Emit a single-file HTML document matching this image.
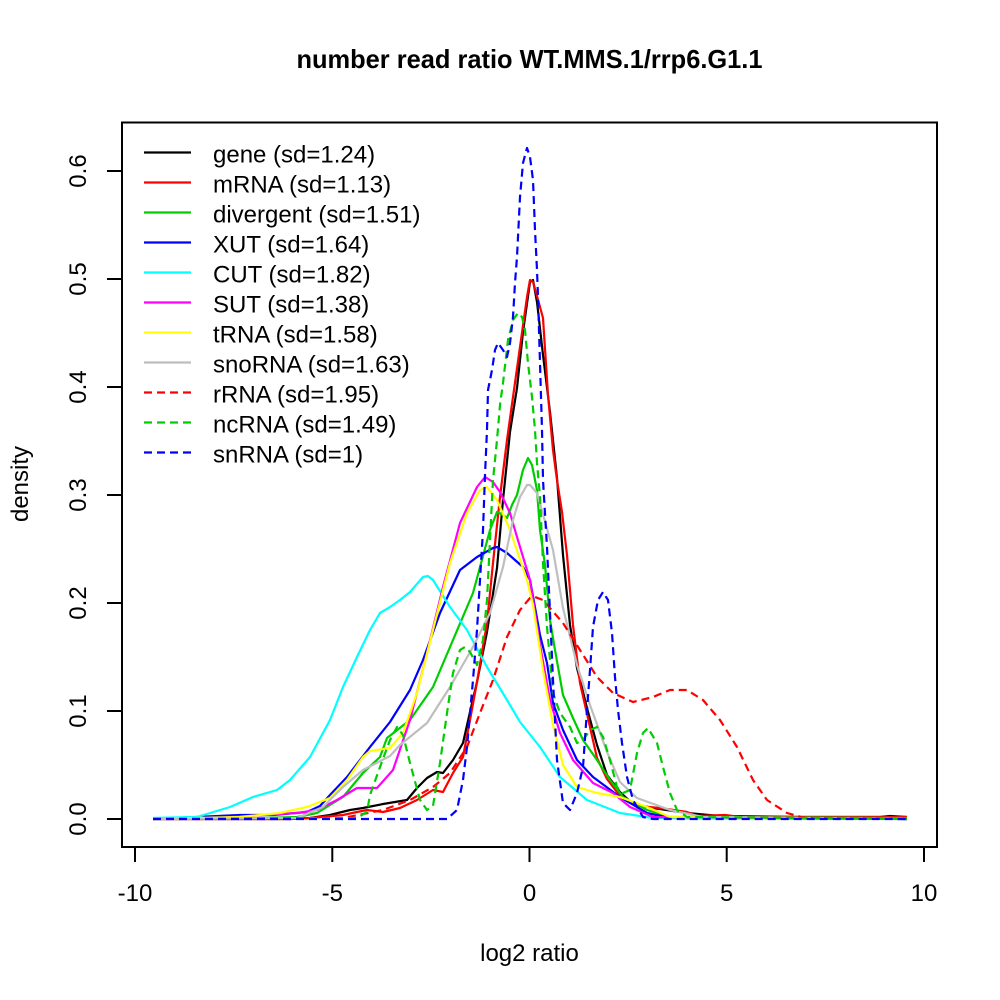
<!DOCTYPE html>
<html>
<head>
<meta charset="utf-8">
<style>
html,body{margin:0;padding:0;background:#fff;}
svg{display:block;}
text{font-family:"Liberation Sans",Arial,sans-serif;fill:#000;}
</style>
</head>
<body>
<svg width="1000" height="1000" viewBox="0 0 1000 1000" xmlns="http://www.w3.org/2000/svg">
<rect x="0" y="0" width="1000" height="1000" fill="#fff"/>

<!-- title -->
<text x="529.5" y="68" font-size="26" font-weight="bold" text-anchor="middle" textLength="466" lengthAdjust="spacingAndGlyphs">number read ratio WT.MMS.1/rrp6.G1.1</text>

<!-- curves -->
<g fill="none" stroke-width="2.2" stroke-linejoin="round" stroke-linecap="butt">
<!-- gene -->
<polyline stroke="#000" points="153,819 290,819 310,818 330,815 350,810 363,808 383,804 407,800 417,788 427,778 437,772 443,773 453,760 463,743 470,712 477,682 487,632 497,568 503,500 510,432 517,388 523,332 530,282 533,280 537,302 543,355 550,412 557,478 563,555 570,625 577,668 587,708 597,745 607,775 620,792 633,804 653,808 687,813 720,816 800,817 880,817 890,816 907,817"/>
<!-- mRNA -->
<polyline stroke="#ff0000" points="153,819 290,819 310,818 343,815 357,812 367,810 383,812 400,808 417,800 433,790 443,792 453,773 463,757 470,720 477,682 487,623 493,563 500,497 507,440 513,397 520,347 527,297 530,280 533,282 537,296 543,318 548,395 553,450 557,480 562,512 567,555 573,625 580,683 590,727 597,758 607,779 620,796 637,806 660,808 687,812 697,816 725,815 740,817 907,817"/>
<!-- divergent -->
<polyline stroke="#00cd00" points="153,819 263,818 297,817 317,813 343,797 363,773 380,757 387,738 410,720 433,687 453,640 473,593 490,530 497,512 503,515 507,518 512,505 517,495 523,470 528,458 532,465 537,490 540,530 545,565 550,620 555,650 563,695 573,718 583,740 597,760 610,780 623,797 647,810 670,817 907,818"/>
<!-- XUT -->
<polyline stroke="#0000ff" points="153,819 240,815 273,815 307,812 320,806 330,795 347,777 370,747 390,722 410,690 423,660 440,613 460,570 477,557 493,548 497,547 507,553 523,567 530,580 540,635 547,663 553,703 563,730 577,760 593,777 620,797 647,813 670,818 907,819"/>
<!-- CUT -->
<polyline stroke="#00ffff" points="153,818 197,817 230,807 253,797 277,790 290,780 310,757 330,720 343,687 357,657 370,630 380,613 390,607 400,600 410,592 423,577 428,576 433,580 450,607 467,630 487,667 507,700 520,722 540,747 560,777 587,800 620,813 653,818 907,819"/>
<!-- SUT -->
<polyline stroke="#ff00ff" points="153,819 217,818 297,813 317,810 337,800 357,788 377,788 393,770 410,720 427,653 443,587 460,523 477,487 485,477 493,482 500,492 510,513 517,537 530,580 540,645 550,700 560,733 573,760 593,783 613,793 630,807 653,817 907,819"/>
<!-- tRNA -->
<polyline stroke="#ffff00" points="153,819 197,818 240,817 280,813 307,807 330,798 347,780 363,757 370,751 390,748 403,733 417,693 433,630 450,563 467,513 480,490 487,487 497,500 510,530 527,580 533,605 543,670 553,725 563,765 577,787 597,793 620,797 647,807 670,817 907,819"/>
<!-- snoRNA -->
<polyline stroke="#bebebe" points="153,819 297,818 323,807 343,787 363,770 390,756 400,745 427,723 450,687 473,647 490,613 503,567 513,520 520,497 527,485 530,485 537,493 553,550 563,608 577,665 590,705 607,752 620,782 637,798 670,810 703,817 907,819"/>
<!-- rRNA dashed -->
<polyline stroke="#ff0000" stroke-dasharray="8 5" points="153,819 343,818 383,810 410,800 433,787 450,773 467,747 480,713 493,680 507,637 520,610 530,598 535,597 543,600 563,623 580,650 597,677 613,693 633,702 653,697 670,690 687,690 703,700 720,720 737,747 753,780 767,800 787,813 805,818 907,819"/>
<!-- ncRNA dashed -->
<polyline stroke="#00cd00" stroke-dasharray="8 5" points="153,819 357,818 367,812 370,795 380,767 390,740 397,727 403,735 410,763 420,800 427,810 433,806 440,763 447,713 453,673 460,650 465,647 470,652 477,665 483,640 487,600 490,540 493,480 497,440 500,405 503,383 508,340 513,320 518,313 522,317 525,330 528,363 532,397 535,430 537,463 540,497 543,563 547,627 553,693 560,713 570,727 577,743 583,740 590,730 597,727 603,737 610,760 617,787 623,793 630,790 637,753 643,733 648,728 657,743 663,767 670,793 677,810 687,817 907,819"/>
<!-- snRNA dashed -->
<polyline stroke="#0000ff" stroke-dasharray="8 5" points="153,819 447,819 457,810 463,780 467,747 470,713 473,680 477,630 480,580 483,530 485,475 487,430 488,390 492,370 495,350 498,343 503,350 507,357 510,343 513,317 515,283 517,257 520,197 523,163 527,148 530,157 533,180 535,230 537,270 538,297 540,363 542,430 543,480 547,547 550,613 553,680 557,760 563,803 570,810 577,793 583,767 587,710 590,670 593,627 598,600 603,592 608,600 612,633 615,677 618,710 622,743 627,777 633,800 643,817 653,819 907,819"/>
</g>

<!-- box -->
<rect x="122" y="122.5" width="815" height="724.5" fill="none" stroke="#000" stroke-width="2"/>

<!-- x ticks -->
<g stroke="#000" stroke-width="2">
<line x1="135" y1="847" x2="135" y2="862"/>
<line x1="332.3" y1="847" x2="332.3" y2="862"/>
<line x1="529.5" y1="847" x2="529.5" y2="862"/>
<line x1="726.7" y1="847" x2="726.7" y2="862"/>
<line x1="924" y1="847" x2="924" y2="862"/>
<!-- y ticks -->
<line x1="107" y1="819" x2="122" y2="819"/>
<line x1="107" y1="711" x2="122" y2="711"/>
<line x1="107" y1="603" x2="122" y2="603"/>
<line x1="107" y1="495" x2="122" y2="495"/>
<line x1="107" y1="387" x2="122" y2="387"/>
<line x1="107" y1="279" x2="122" y2="279"/>
<line x1="107" y1="171" x2="122" y2="171"/>
</g>

<!-- x tick labels -->
<g font-size="24" text-anchor="middle">
<text x="135" y="901">-10</text>
<text x="332.3" y="901">-5</text>
<text x="529.5" y="901">0</text>
<text x="726.7" y="901">5</text>
<text x="924" y="901">10</text>
</g>

<!-- y tick labels -->
<g font-size="24" text-anchor="middle">
<text transform="translate(86,819) rotate(-90)">0.0</text>
<text transform="translate(86,711) rotate(-90)">0.1</text>
<text transform="translate(86,603) rotate(-90)">0.2</text>
<text transform="translate(86,495) rotate(-90)">0.3</text>
<text transform="translate(86,387) rotate(-90)">0.4</text>
<text transform="translate(86,279) rotate(-90)">0.5</text>
<text transform="translate(86,171) rotate(-90)">0.6</text>
</g>

<!-- axis labels -->
<text x="529.5" y="961" font-size="24" text-anchor="middle">log2 ratio</text>
<text transform="translate(28,484) rotate(-90)" font-size="24" text-anchor="middle">density</text>

<!-- legend -->
<g stroke-width="2.2" fill="none">
<line x1="144" y1="152.5" x2="191" y2="152.5" stroke="#000"/>
<line x1="144" y1="182.5" x2="191" y2="182.5" stroke="#ff0000"/>
<line x1="144" y1="212.5" x2="191" y2="212.5" stroke="#00cd00"/>
<line x1="144" y1="242.5" x2="191" y2="242.5" stroke="#0000ff"/>
<line x1="144" y1="272.5" x2="191" y2="272.5" stroke="#00ffff"/>
<line x1="144" y1="302.5" x2="191" y2="302.5" stroke="#ff00ff"/>
<line x1="144" y1="332.5" x2="191" y2="332.5" stroke="#ffff00"/>
<line x1="144" y1="362.5" x2="191" y2="362.5" stroke="#bebebe"/>
<line x1="144" y1="392.5" x2="191" y2="392.5" stroke="#ff0000" stroke-dasharray="8 5"/>
<line x1="144" y1="422.5" x2="191" y2="422.5" stroke="#00cd00" stroke-dasharray="8 5"/>
<line x1="144" y1="452.5" x2="191" y2="452.5" stroke="#0000ff" stroke-dasharray="8 5"/>
</g>
<g font-size="24">
<text x="213" y="162.5">gene (sd=1.24)</text>
<text x="213" y="192.5">mRNA (sd=1.13)</text>
<text x="213" y="222.5">divergent (sd=1.51)</text>
<text x="213" y="252.5">XUT (sd=1.64)</text>
<text x="213" y="282.5">CUT (sd=1.82)</text>
<text x="213" y="312.5">SUT (sd=1.38)</text>
<text x="213" y="342.5">tRNA (sd=1.58)</text>
<text x="213" y="372.5">snoRNA (sd=1.63)</text>
<text x="213" y="402.5">rRNA (sd=1.95)</text>
<text x="213" y="432.5">ncRNA (sd=1.49)</text>
<text x="213" y="462.5">snRNA (sd=1)</text>
</g>
</svg>
</body>
</html>
